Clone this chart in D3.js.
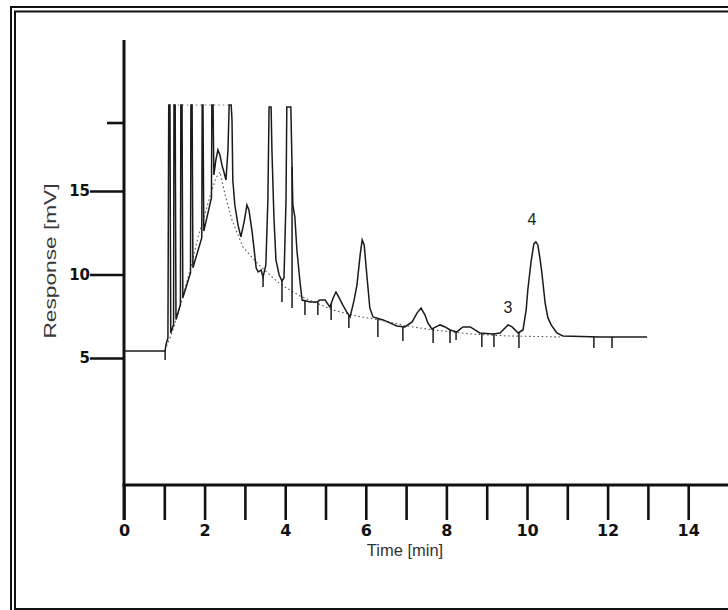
<!DOCTYPE html>
<html>
<head>
<meta charset="utf-8">
<script src="https://cdn.jsdelivr.net/npm/d3@7/dist/d3.min.js"></script>
<style>
  html, body { margin: 0; padding: 0; background: #fff; }
  svg { display: block; }
</style>
</head>
<body>
<svg id="chart" width="728" height="610"></svg>
<script>
// ---------------- DATA ----------------
// chromatogram trace: [time (min), response (mV)]
const traceTime = [0,1.02,1.04,1.09,1.11,1.14,1.16,1.23,1.24,1.27,1.29,1.40,1.41,1.44,1.46,1.65,1.66,1.69,1.71,1.93,1.94,1.96,1.98,2.17,2.18,2.21,2.23,2.28,2.33,2.38,2.43,2.48,2.53,2.58,2.61,2.66,2.68,2.70,2.75,2.83,2.90,2.98,3.05,3.10,3.18,3.23,3.28,3.33,3.40,3.45,3.52,3.57,3.60,3.65,3.67,3.72,3.77,3.85,3.92,3.97,4.02,4.04,4.14,4.17,4.19,4.24,4.29,4.37,4.42,4.62,4.79,4.86,4.99,5.11,5.19,5.26,5.33,5.43,5.53,5.61,5.71,5.78,5.86,5.91,5.96,6.03,6.10,6.18,6.43,6.77,6.97,7.15,7.27,7.37,7.47,7.54,7.64,7.74,7.84,7.97,8.09,8.26,8.41,8.59,8.71,8.83,9.16,9.33,9.43,9.53,9.63,9.78,9.90,9.98,10.02,10.10,10.17,10.22,10.27,10.32,10.37,10.45,10.52,10.60,10.74,10.89,11.81,12.98];
const traceResp = [5.42,5.42,5.78,6.20,20.15,20.15,6.5,7.0,20.15,20.15,7.3,8.2,20.15,20.15,8.6,10.1,20.15,20.15,10.4,12.2,20.15,20.15,12.6,14.6,20.15,20.15,15.96,16.86,17.46,17.16,16.56,16.14,15.66,17.46,20.15,20.15,19.25,15.66,14.16,12.96,12.25,13.14,14.16,13.86,12.54,11.47,10.39,10.15,10.27,9.85,10.57,14.46,20.03,20.03,17.5,13.44,10.87,9.97,9.61,9.79,14.46,20.03,20.03,16.44,14.16,13.44,11.47,9.49,8.47,8.35,8.35,8.47,8.47,8.05,8.59,8.95,8.65,8.17,7.75,7.46,8.47,9.37,11.17,12.07,11.77,9.85,7.99,7.46,7.28,6.92,6.86,7.16,7.69,7.99,7.57,7.10,6.74,6.86,6.98,6.86,6.68,6.56,6.86,6.86,6.68,6.50,6.44,6.50,6.74,6.98,6.86,6.50,6.68,7.90,9.07,10.75,11.83,11.95,11.77,10.99,10.09,8.29,7.40,6.98,6.50,6.32,6.26,6.26];

// dotted background (baseline) estimate
const baseTime = [1.02,1.19,1.39,1.64,1.84,2.13,2.28,2.38,2.51,2.68,2.95,3.30,3.62,3.87,4.37,5.19,5.78,6.35,7.02,7.67,8.59,9.50,10.82];
const baseResp = [5.48,6.50,8.05,10.27,12.25,14.64,15.78,16.14,14.76,13.26,11.65,10.69,9.97,9.43,8.71,7.87,7.51,7.28,6.92,6.68,6.44,6.32,6.26];

// integration event marks: time and the response they drop to
const markTime = [1.02,3.45,3.92,4.17,4.49,4.81,5.14,5.58,6.30,6.92,7.67,8.09,8.24,8.88,9.18,9.80,11.66,12.11];
const markLow  = [4.88,9.25,8.35,7.99,7.57,7.57,7.28,6.80,6.26,6.02,5.90,5.90,6.08,5.66,5.66,5.60,5.60,5.60];

// peak annotations
const peakLabels = ["3","4"];
const peakTime = [9.53,10.12];
const peakResp = [8.0,13.3];

// axes
const xTickValues = [0,1,2,3,4,5,6,7,8,9,10,11,12,13,14];
const xTickLabels = ["0","","2","","4","","6","","8","","10","","12","","14"];
const yTickValues = [5,10,15,19.1];
const yTickLabels = ["5","10","15",""];
const xTitle = "Time [min]";
const yTitle = "Response [mV]";

// ---------------- LAYOUT ----------------
const svg = d3.select("#chart");
const axisX0 = 124, axisXEnd = 728.5;   // x-axis pixel span
const axisY = 485, axisTop = 40, axisBottomExt = 520;

const x = d3.scaleLinear().domain([0, 15]).range([axisX0, axisXEnd]);
const y = d3.scaleLinear().domain([5, 20]).range([358, 107.5]);

// frame (double border)
svg.append("rect").attr("x", 0).attr("y", 0).attr("width", 728).attr("height", 610).attr("fill", "#fff");
svg.append("rect").attr("x", 11).attr("y", 7).attr("width", 800).attr("height", 700)
  .attr("fill", "none").attr("stroke", "#111").attr("stroke-width", 2);
svg.append("rect").attr("x", 15).attr("y", 11.5).attr("width", 800).attr("height", 597.5)
  .attr("fill", "none").attr("stroke", "#111").attr("stroke-width", 2);

// ---- x axis ----
const xAxis = d3.axisBottom(x).tickValues(xTickValues).tickSize(35).tickPadding(3)
  .tickFormat((d, i) => xTickLabels[i]);
const gx = svg.append("g").attr("transform", `translate(0,${axisY})`).call(xAxis);
gx.select(".domain").remove();
gx.selectAll(".tick line").attr("stroke", "#111").attr("stroke-width", 2.6);
gx.selectAll(".tick text")
  .attr("font-family", "DejaVu Sans, Verdana, sans-serif")
  .attr("font-weight", "bold").attr("font-size", 16).attr("fill", "#111")
  .attr("dy", "0.8em");
svg.append("line").attr("x1", axisX0 - 1.5).attr("x2", 728).attr("y1", axisY).attr("y2", axisY)
  .attr("stroke", "#111").attr("stroke-width", 3);

// ---- y axis ----
const yAxis = d3.axisLeft(y).tickValues(yTickValues).tickSize(34).tickPadding(0)
  .tickFormat((d, i) => yTickLabels[i]);
const gy = svg.append("g").attr("transform", `translate(${axisX0},0)`).call(yAxis);
gy.select(".domain").remove();
gy.selectAll(".tick line").attr("stroke", "#111").attr("stroke-width", 2.6)
  .attr("x2", (d, i) => yTickLabels[i] === "" ? -17 : -34);
gy.selectAll(".tick text")
  .attr("font-family", "DejaVu Sans, Verdana, sans-serif")
  .attr("font-weight", "bold").attr("font-size", 15).attr("fill", "#111");
svg.append("line").attr("x1", axisX0).attr("x2", axisX0).attr("y1", axisTop).attr("y2", axisBottomExt)
  .attr("stroke", "#111").attr("stroke-width", 3);

// titles
svg.append("text").attr("x", 405).attr("y", 556).attr("text-anchor", "middle")
  .attr("font-family", "Liberation Sans, Arial, sans-serif").attr("font-size", 16.5)
  .attr("fill", "#333").text(xTitle);
svg.append("text").attr("transform", "translate(56,261) rotate(-90)").attr("text-anchor", "middle")
  .attr("font-family", "Liberation Sans, Arial, sans-serif").attr("font-size", 17)
  .attr("textLength", 155).attr("lengthAdjust", "spacingAndGlyphs")
  .attr("fill", "#3a3a3a").text(yTitle);

// ---- baseline (dotted) ----
const baseData = baseTime.map((t, i) => [t, baseResp[i]]);
const line = d3.line().x(d => x(d[0])).y(d => y(d[1]));
svg.append("path").datum(baseData).attr("d", line)
  .attr("fill", "none").attr("stroke", "#555").attr("stroke-width", 1.1)
  .attr("stroke-dasharray", "1.6,2.6");

// dotted clip line across saturated tops
const traceData = traceTime.map((t, i) => [t, traceResp[i]]);
const sat = traceData.filter(d => d[1] >= 20.1 && d[0] < 3);
svg.append("path").datum([sat[0], sat[sat.length - 1]]).attr("d", line)
  .attr("fill", "none").attr("stroke", "#777").attr("stroke-width", 1.2)
  .attr("stroke-dasharray", "1.5,3");

// ---- trace ----
svg.append("path").datum(traceData).attr("d", line)
  .attr("fill", "none").attr("stroke", "#1a1a1a").attr("stroke-width", 1.5)
  .attr("stroke-linejoin", "miter");

// ---- integration marks ----
const bis = d3.bisector(d => d[0]).left;
function traceAt(t) {
  const i = Math.max(1, Math.min(traceData.length - 1, bis(traceData, t)));
  const a = traceData[i - 1], b = traceData[i];
  return a[1] + (b[1] - a[1]) * (t - a[0]) / (b[0] - a[0]);
}
svg.append("g").selectAll("line").data(markTime).join("line")
  .attr("x1", d => x(d)).attr("x2", d => x(d))
  .attr("y1", d => y(traceAt(d))).attr("y2", (d, i) => y(markLow[i]))
  .attr("stroke", "#1a1a1a").attr("stroke-width", 1.5);

// ---- peak labels ----
svg.append("g").selectAll("text").data(peakLabels).join("text")
  .attr("x", (d, i) => x(peakTime[i])).attr("y", (d, i) => y(peakResp[i]))
  .attr("text-anchor", "middle").attr("dominant-baseline", "central")
  .attr("font-family", "Liberation Sans, Arial, sans-serif").attr("font-size", 16)
  .attr("fill", "#222").text(d => d);
</script>
</body>
</html>
